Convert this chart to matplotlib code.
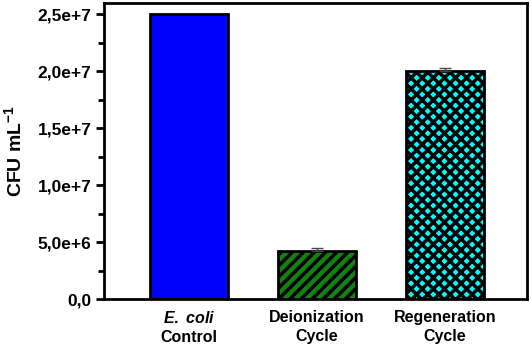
import numpy as np
import matplotlib.pyplot as plt
from matplotlib.ticker import FuncFormatter, MultipleLocator

# data
groups = ['Control', 'Deionization\nCycle', 'Regeneration\nCycle']
cfu = [2.5e7, 4.25e6, 2.0e7]
err = [0, 2.0e5, 3.0e5]
colors = ['#0000ff', '#128212', '#00ffff']
hatches = ['', '///', 'xxx']

plt.rcParams['font.family'] = 'Liberation Sans'
plt.rcParams['font.weight'] = 'bold'
plt.rcParams['mathtext.fontset'] = 'custom'
plt.rcParams['mathtext.it'] = 'Liberation Sans:italic:bold'
plt.rcParams['mathtext.bf'] = 'Liberation Sans:bold'
plt.rcParams['mathtext.rm'] = 'Liberation Sans:bold'
plt.rcParams['hatch.linewidth'] = 2.5

fig = plt.figure(figsize=(5.32, 3.49), dpi=100)
ax = fig.add_axes([104/532, 1 - 299/349, 423/532, 296/349])

x = np.arange(len(groups))
for i in range(len(groups)):
    ax.bar(x[i], cfu[i], width=0.61, color=colors[i], edgecolor='black',
           linewidth=2, hatch=hatches[i], zorder=2)
    if err[i] > 0:
        ax.errorbar(x[i], cfu[i], yerr=[[0], [err[i]]], fmt='none',
                    ecolor='#444444', elinewidth=1, capsize=4,
                    capthick=1, zorder=3)

ax.set_xlim(-0.664, 2.64)
ax.set_ylim(0, 2.6e7)
ax.yaxis.set_major_locator(MultipleLocator(5e6))
ax.yaxis.set_minor_locator(MultipleLocator(2.5e6))

def fmt(v, pos):
    if v <= 0:
        return '0,0'
    e = int(np.floor(np.log10(v)))
    return ('%.1fe+%d' % (v / 10**e, e)).replace('.', ',')

ax.yaxis.set_major_formatter(FuncFormatter(fmt))
ax.set_xticks(x)
ax.set_xticklabels(['$\\mathit{E.}$ $\\mathit{coli}$\nControl', groups[1], groups[2]],
                   fontsize=11.5, fontweight='bold', linespacing=1.35)
ax.tick_params(axis='x', length=0, pad=8)
ax.tick_params(axis='y', which='major', length=6, width=2,
               direction='out', labelsize=12.5, pad=3)
ax.tick_params(axis='y', which='minor', length=4, width=2, direction='out')
for lbl in ax.get_yticklabels():
    lbl.set_fontweight('bold')
for s in ax.spines.values():
    s.set_linewidth(2)

ax.set_ylabel('CFU mL$^{\\mathbf{-1}}$', fontsize=14, fontweight='bold',
              labelpad=9)

fig.savefig('out.png', dpi=100)
